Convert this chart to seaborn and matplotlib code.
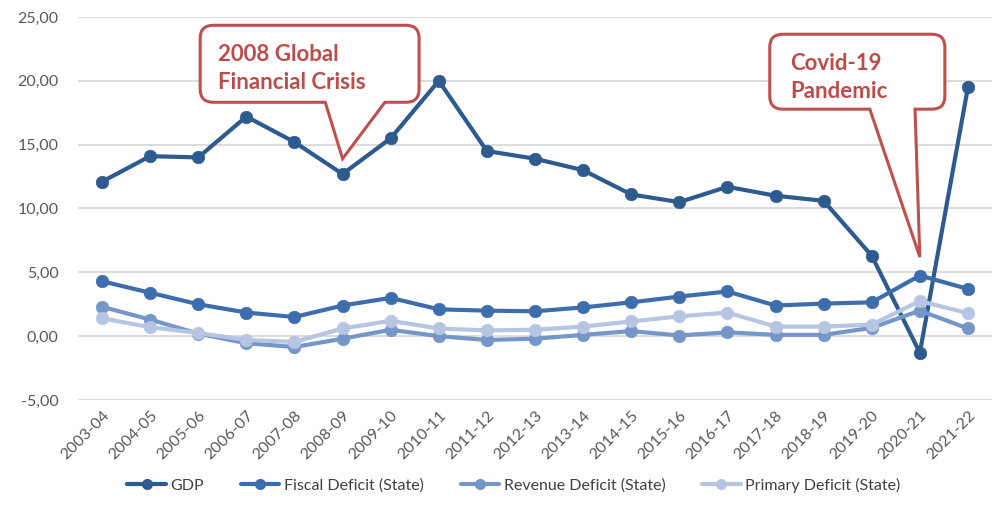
import numpy as np
import pandas as pd
import matplotlib
matplotlib.use("Agg")
import matplotlib.pyplot as plt
from matplotlib.path import Path
from matplotlib.patches import PathPatch
from matplotlib.lines import Line2D
from matplotlib.ticker import FuncFormatter
import seaborn as sns

years = ["2003-04", "2004-05", "2005-06", "2006-07", "2007-08", "2008-09", "2009-10",
         "2010-11", "2011-12", "2012-13", "2013-14", "2014-15", "2015-16", "2016-17",
         "2017-18", "2018-19", "2019-20", "2020-21", "2021-22"]

gdp = [12.1, 14.1, 14.0, 17.2, 15.2, 12.7, 15.5, 20.0, 14.5, 13.9, 13.0, 11.1,
       10.5, 11.7, 11.0, 10.6, 6.3, -1.3, 19.5]
fiscal_deficit = [4.3, 3.4, 2.5, 1.85, 1.5, 2.4, 3.0, 2.1, 2.0, 1.95, 2.25, 2.65,
                  3.1, 3.5, 2.4, 2.55, 2.65, 4.75, 3.7]
revenue_deficit = [2.3, 1.3, 0.2, -0.55, -0.85, -0.2, 0.5, 0.0, -0.3, -0.2, 0.1, 0.4,
                   0.05, 0.3, 0.1, 0.1, 0.65, 2.0, 0.6]
primary_deficit = [1.4, 0.7, 0.25, -0.3, -0.45, 0.6, 1.2, 0.6, 0.45, 0.5, 0.75, 1.15,
                   1.55, 1.85, 0.75, 0.75, 0.9, 2.75, 1.8]

series_names = ["GDP", "Fiscal Deficit (State)", "Revenue Deficit (State)",
                "Primary Deficit (State)"]
series_colors = ["#2E5B8F", "#3D6DAD", "#7596C9", "#B6C5E1"]

callout_texts = ["2008 Global\nFinancial Crisis", "Covid-19\nPandemic"]
callout_years = ["2008-09", "2020-21"]

sns.set_theme(style="white")
plt.rcParams["font.family"] = ["Lato", "DejaVu Sans"]

frames = []
for name, vals in zip(series_names, [gdp, fiscal_deficit, revenue_deficit, primary_deficit]):
    frames.append(pd.DataFrame({"idx": np.arange(len(years)), "value": vals, "series": name}))
df = pd.concat(frames, ignore_index=True)

fig = plt.figure(figsize=(10, 5.23), dpi=100)
ax = fig.add_axes([0.078, 0.2352, 0.914, 0.7323])

sns.lineplot(data=df, x="idx", y="value", hue="series", hue_order=series_names,
             palette=series_colors, marker="o", markersize=9, linewidth=3,
             sort=False, ax=ax, legend=False)
for ln in ax.get_lines():
    ln.set_markeredgecolor(ln.get_color())
    ln.set_markeredgewidth(0.5)

ax.set_xlim(-0.5, len(years) - 0.5)
ax.set_ylim(-5, 25)
ax.set_yticks(np.arange(-5, 26, 5))
ax.yaxis.set_major_formatter(FuncFormatter(lambda v, p: f"{v:.2f}".replace(".", ",")))
ax.set_xticks(np.arange(len(years)))
ax.set_xticklabels(years, rotation=45, ha="right", rotation_mode="anchor")
ax.tick_params(axis="both", length=0, labelsize=11.5, labelcolor="#595959")
ax.tick_params(axis="x", pad=6)
ax.tick_params(axis="y", pad=14)
ax.set_xlabel("")
ax.set_ylabel("")
ax.grid(axis="y", color="#D9D9D9", linewidth=1.3)
ax.set_axisbelow(True)
for sp in ax.spines.values():
    sp.set_visible(False)

# callout shapes: rounded box with a pointer down to the marked year
px_x = 48.1   # pixels per x unit
px_y = 12.77  # pixels per y unit


def callout(ax, left, right, top, bottom, base_l, base_r, tip, text, tx, ty):
    rx, ry = 13 / px_x, 13 / px_y
    verts = [
        (left + rx, top), (right - rx, top),
        (right, top), (right, top - ry),
        (right, bottom + ry),
        (right, bottom), (right - rx, bottom),
        (base_r, bottom), tip, (base_l, bottom),
        (left + rx, bottom),
        (left, bottom), (left, bottom + ry),
        (left, top - ry),
        (left, top), (left + rx, top),
        (left + rx, top),
    ]
    codes = [Path.MOVETO, Path.LINETO,
             Path.CURVE3, Path.CURVE3,
             Path.LINETO,
             Path.CURVE3, Path.CURVE3,
             Path.LINETO, Path.LINETO, Path.LINETO,
             Path.LINETO,
             Path.CURVE3, Path.CURVE3,
             Path.LINETO,
             Path.CURVE3, Path.CURVE3,
             Path.CLOSEPOLY]
    patch = PathPatch(Path(verts, codes), facecolor="white", edgecolor="#C0504D",
                      linewidth=2.2, zorder=5, clip_on=False)
    ax.add_patch(patch)
    ax.text(tx, ty, text, color="#BE4B48", fontsize=16, fontweight="bold",
            ha="left", va="top", linespacing=1.4, zorder=6)


i1 = years.index(callout_years[0])
i2 = years.index(callout_years[1])
callout(ax, 2.04, 6.59, 24.35, 18.32, 4.64, 5.88, (i1, 13.9),
        callout_texts[0], 2.42, 22.85)
callout(ax, 13.88, 17.52, 23.65, 17.78, 15.96, 16.9, (i2, 6.2),
        callout_texts[1], 14.3, 22.15)

handles = [Line2D([], [], color=c, lw=3, marker="o", markersize=7) for c in series_colors]
fig.legend(handles, series_names, loc="center", bbox_to_anchor=(0.514, 0.072), ncol=4,
           frameon=False, fontsize=11.5, handlelength=2.4, handletextpad=0.3,
           columnspacing=2.3, labelcolor="#404040")

fig.savefig("out.png", dpi=100)
